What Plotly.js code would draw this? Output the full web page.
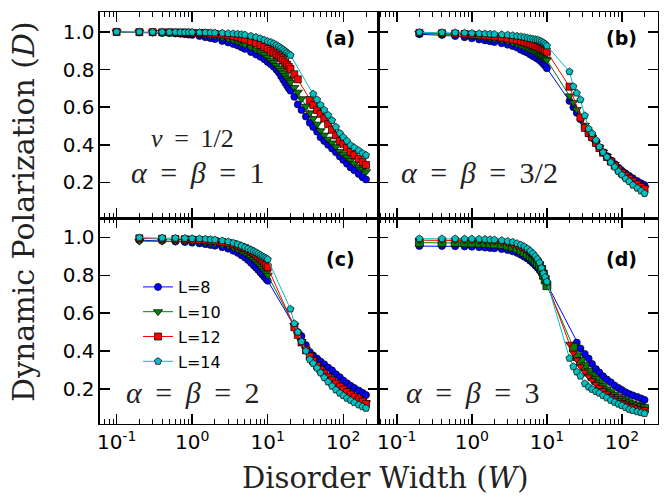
<!DOCTYPE html>
<html>
<head>
<meta charset="utf-8">
<script src="https://cdn.plot.ly/plotly-3.0.1.min.js"></script>
<style>html,body{margin:0;padding:0;background:#fff;}#chart{width:668px;height:498px;}</style>
</head>
<body>
<div id="chart"></div>
<script>
// ---------------- data ----------------
const W_a = [0.1,0.2,0.3,0.4,0.5,0.6,0.7,0.8,0.9,1,1.25,1.5,1.75,2,2.5,3,3.5,4,4.5,5,6,7,8,9,10,11,12,13,14,15,16,17,18,19,20,22.5,25,28,32,36,40,45,50,56,63,71,80,90,100,112,125,140,160,180,200];
const W_bcd = [0.2,0.4,0.6,0.8,1,1.25,1.5,1.75,2,2.5,3,3.5,4,4.5,5,5.5,6,6.5,7,7.5,8,8.5,9,9.5,10,20,22.5,25,28,32,36,40,45,50,56,63,71,80,90,100,112,125,140,160,180,200];

const seriesNames = ['L=8','L=10','L=12','L=14'];

// panel (a)  alpha=beta=1
const a_L8  = [1.0,0.998,0.997,0.995,0.994,0.992,0.99,0.988,0.986,0.984,0.978,0.972,0.967,0.962,0.952,0.944,0.936,0.928,0.918,0.91,0.893,0.88,0.868,0.855,0.84,0.828,0.815,0.8,0.785,0.765,0.747,0.73,0.715,0.7,0.688,0.655,0.615,0.585,0.55,0.517,0.495,0.47,0.44,0.42,0.4,0.38,0.36,0.338,0.32,0.3,0.28,0.265,0.245,0.228,0.216];
const a_L10 = [1.0,0.999,0.998,0.997,0.996,0.995,0.994,0.993,0.992,0.99,0.987,0.984,0.98,0.977,0.97,0.963,0.956,0.948,0.94,0.932,0.918,0.905,0.893,0.88,0.865,0.85,0.837,0.822,0.808,0.795,0.782,0.768,0.755,0.743,0.733,0.705,0.68,0.645,0.605,0.57,0.54,0.51,0.475,0.452,0.43,0.41,0.39,0.365,0.35,0.335,0.318,0.3,0.283,0.27,0.257];
const a_L12 = [1.0,0.999,0.999,0.998,0.998,0.997,0.997,0.996,0.996,0.995,0.994,0.993,0.991,0.989,0.986,0.982,0.978,0.972,0.966,0.96,0.95,0.94,0.93,0.92,0.91,0.9,0.89,0.88,0.87,0.86,0.85,0.838,0.826,0.815,0.803,0.775,0.748,null,null,0.638,0.612,0.585,0.565,0.54,0.51,0.48,0.45,0.42,0.405,0.385,0.362,0.345,0.325,0.308,0.293];
const a_L14 = [1.0,1.0,0.999,0.999,0.999,0.999,0.998,0.998,0.998,0.998,0.997,0.997,0.996,0.995,0.994,0.992,0.991,0.989,0.987,0.984,0.978,0.972,0.965,0.957,0.95,0.945,0.938,0.93,0.922,0.914,0.906,0.898,0.89,0.883,0.876,null,null,null,null,null,0.67,0.64,0.612,0.585,0.558,0.53,0.495,0.462,0.44,0.42,0.398,0.385,0.37,0.355,0.345];

// panel (b)  alpha=beta=3/2
const b_L8  = [0.988,0.984,0.978,0.972,0.966,0.96,0.955,0.95,0.946,0.94,0.932,0.925,0.917,0.905,0.897,0.89,0.88,0.872,0.865,0.857,0.85,0.84,0.83,0.82,0.807,0.633,0.6,0.57,0.536,0.493,0.46,0.438,0.41,0.385,0.36,0.34,0.318,0.298,0.278,0.262,0.248,0.235,0.222,0.208,0.196,0.186];
const b_L10 = [0.992,0.99,0.986,0.982,0.978,0.974,0.97,0.966,0.962,0.956,0.95,0.943,0.936,0.928,0.92,0.913,0.905,0.898,0.89,0.882,0.875,0.868,0.862,0.856,0.851,0.66,0.625,0.588,0.55,0.505,0.465,0.44,0.41,0.385,0.36,0.338,0.315,0.295,0.272,0.255,0.24,0.225,0.21,0.195,0.182,0.17];
const b_L12 = [0.995,0.993,0.991,0.989,0.986,0.983,0.98,0.978,0.975,0.97,0.965,0.96,0.955,0.95,0.945,0.94,0.935,0.93,0.925,0.92,0.915,0.91,0.905,0.9,0.895,0.709,null,null,0.545,0.49,0.462,0.44,0.41,0.383,0.358,0.335,0.312,0.29,0.268,0.25,0.235,0.22,0.205,0.19,0.177,0.165];
const b_L14 = [0.998,0.997,0.996,0.995,0.993,0.992,0.99,0.989,0.988,0.986,0.984,0.981,0.978,0.975,0.972,0.968,0.965,0.962,0.96,0.957,0.953,0.948,0.942,0.935,0.926,0.789,0.71,0.675,0.64,0.555,0.485,0.46,0.425,0.39,0.36,0.335,0.307,0.282,0.258,0.24,0.22,0.205,0.186,0.17,0.155,0.142];

// panel (c)  alpha=beta=2
const c_L8  = [0.985,0.982,0.978,0.975,0.972,0.968,0.964,0.96,0.956,0.948,0.94,0.929,0.918,0.905,0.893,0.88,0.866,0.853,0.84,0.828,0.815,0.803,0.792,0.781,0.771,null,null,0.5,0.479,0.432,0.395,0.377,0.36,0.345,0.33,0.313,0.298,0.278,0.262,0.245,0.23,0.217,0.205,0.192,0.18,0.168];
const c_L10 = [0.98,0.98,0.98,0.98,0.978,0.976,0.973,0.97,0.967,0.961,0.955,0.946,0.937,0.927,0.917,0.906,0.895,0.884,0.872,0.86,0.848,0.836,0.824,0.812,0.8,null,0.535,0.49,0.45,0.41,0.38,0.355,0.33,0.31,0.29,0.27,0.252,0.235,0.218,0.203,0.189,0.175,0.163,0.15,0.138,0.127];
const c_L12 = [0.995,0.993,0.991,0.99,0.988,0.986,0.984,0.982,0.98,0.975,0.97,0.964,0.957,0.95,0.943,0.935,0.927,0.918,0.909,0.899,0.889,0.878,0.866,0.855,0.842,null,0.525,0.485,0.445,0.405,0.372,0.348,0.322,0.302,0.282,0.262,0.245,0.228,0.212,0.197,0.183,0.17,0.158,0.145,0.133,0.121];
const c_L14 = [0.998,0.997,0.996,0.995,0.994,0.993,0.991,0.989,0.987,0.982,0.977,0.97,0.963,0.955,0.947,0.94,0.933,0.926,0.92,0.913,0.906,0.9,0.895,0.89,0.884,0.622,0.545,0.5,0.45,0.4,0.355,0.335,0.31,0.285,0.26,0.237,0.215,0.195,0.178,0.165,0.151,0.14,0.128,0.116,0.106,0.098];

// panel (d)  alpha=beta=3
const d_L8  = [0.954,0.954,0.953,0.952,0.95,0.948,0.946,0.944,0.942,0.938,0.933,0.926,0.918,0.908,0.898,0.888,0.876,0.864,0.852,0.84,0.826,0.81,0.793,0.775,0.755,null,null,0.445,0.414,0.385,0.36,0.332,0.305,0.287,0.267,0.25,0.235,0.218,0.205,0.194,0.182,0.173,0.166,0.158,0.15,0.142];
const d_L10 = [0.972,0.972,0.972,0.971,0.97,0.969,0.968,0.966,0.965,0.961,0.955,0.948,0.94,0.93,0.92,0.91,0.9,0.888,0.875,0.862,0.85,0.83,0.8,0.775,0.745,null,0.42,0.37,0.345,0.318,0.288,0.265,0.245,0.225,0.207,0.19,0.175,0.162,0.15,0.14,0.131,0.122,0.115,0.108,0.102,0.097];
const d_L12 = [0.985,0.985,0.985,0.984,0.983,0.982,0.981,0.979,0.977,0.972,0.967,0.96,0.953,0.944,0.935,0.925,0.913,0.9,0.888,0.874,0.86,0.84,0.818,0.79,0.76,0.437,0.39,0.355,0.318,0.29,0.265,0.245,0.225,0.208,0.192,0.176,0.162,0.15,0.139,0.13,0.122,0.114,0.108,0.101,0.096,0.092];
const d_L14 = [0.993,0.993,0.993,0.992,0.992,0.991,0.99,0.988,0.987,0.984,0.98,0.975,0.968,0.96,0.951,0.94,0.928,0.915,0.9,0.885,0.866,0.838,0.81,0.79,0.766,0.362,0.318,0.29,0.268,0.228,0.21,0.198,0.187,0.178,0.165,0.153,0.14,0.13,0.12,0.112,0.102,0.092,0.087,0.08,0.075,0.07];

const xTickVals = [0.1,1,10,100];
const xTickText = ['10<sup>-1</sup>','10<sup>0</sup>','10<sup>1</sup>','10<sup>2</sup>'];
const yTickVals = [0.2,0.4,0.6,0.8,1.0];
const yTickText = ['0.2','0.4','0.6','0.8','1.0'];
const panelLabels = ['(a)','(b)','(c)','(d)'];

// ---------------- styles ----------------
const colors = ['#0000ff','#008000','#ff0000','#00bfbf'];
const symbols = ['circle','triangle-down','square','pentagon'];
const sizes = [7,8,7,7.5];

function mk(x, y, i, xa, ya, showleg, symOverride) {
  return {
    x: x, y: y, type: 'scatter', mode: 'lines+markers',
    name: seriesNames[i], legendgroup: seriesNames[i], showlegend: showleg,
    connectgaps: true,
    xaxis: xa, yaxis: ya,
    line: {color: colors[i], width: 1},
    marker: {symbol: symOverride || symbols[i], size: sizes[i], color: colors[i],
             line: {color: '#000', width: 0.7}}
  };
}

const traces = [];
[a_L8,a_L10,a_L12,a_L14].forEach((y,i)=>traces.push(mk(W_a,y,i,'x','y',true)));
[b_L8,b_L10,b_L12,b_L14].forEach((y,i)=>traces.push(mk(W_bcd,y,i,'x2','y2',false)));
[c_L8,c_L10,c_L12,c_L14].forEach((y,i)=>traces.push(mk(W_bcd,y,i,'x3','y3',false)));
// in panel (d) the L=10 / L=12 marker shapes are swapped in the original figure
[d_L8,d_L10,d_L12,d_L14].forEach((y,i)=>{
  const s = i===1 ? 'square' : (i===2 ? 'triangle-down' : null);
  traces.push(mk(W_bcd,y,i,'x4','y4',false,s));
});

const minorVals = [];
for (let e=-2; e<=2; e++) for (let m=2; m<=9; m++) minorVals.push(m*Math.pow(10,e));

const tickFont = {family: 'DejaVu Sans, sans-serif', size: 20, color: '#000'};
function xAx(domain, anchor, range, labels) {
  return {domain: domain, anchor: anchor, type: 'log', range: range,
    showline: true, linecolor: '#000', linewidth: 1.5, mirror: 'allticks',
    ticks: 'inside', ticklen: 10, tickwidth: 1.5, tickcolor: '#000',
    tickmode: 'array', tickvals: xTickVals, ticktext: xTickText,
    showticklabels: labels, tickfont: tickFont,
    minor: {tickmode: 'array', tickvals: minorVals, ticks: 'inside', ticklen: 5, tickwidth: 1, tickcolor: '#000', showgrid: false},
    showgrid: false, zeroline: false};
}
function yAx(domain, anchor, range, labels) {
  return {domain: domain, anchor: anchor, range: range,
    showline: true, linecolor: '#000', linewidth: 1.5, mirror: 'allticks',
    ticks: 'inside', ticklen: 10, tickwidth: 1.5, tickcolor: '#000',
    tickmode: 'array', tickvals: yTickVals, ticktext: yTickText,
    showticklabels: labels, tickfont: tickFont,
    showgrid: false, zeroline: false};
}

const dxL = [0.1497, 0.5659], dxR = [0.5659, 0.985];
const dyT = [0.5622, 0.9759], dyB = [0.1486, 0.5622];
const rxL = [-1.22, 2.46], rxR = [-1.25, 2.48];
const ryT = [0.011, 1.106], ryB = [0.015, 1.102];

const serif = 'Liberation Serif, Times New Roman, serif';
const wideSerif = 'DejaVu Serif, serif';
const mathFont = {family: serif, size: 30, color: '#222'};
const labFont = {family: 'DejaVu Sans, sans-serif', size: 19, color: '#000'};
const sp = '\u00a0\u2009';
const eq = sp + '=' + sp;

function ann(xref, yref, x, y, text, font, extra) {
  return Object.assign({xref: xref, yref: yref, x: x, y: y, text: text, showarrow: false,
    xanchor: 'center', yanchor: 'middle', font: font}, extra || {});
}

const annotations = [
  ann('x domain','y domain', 0.865, 0.874, '<b>'+panelLabels[0]+'</b>', labFont),
  ann('x2 domain','y2 domain', 0.868, 0.874, '<b>'+panelLabels[1]+'</b>', labFont),
  ann('x3 domain','y3 domain', 0.865, 0.80, '<b>'+panelLabels[2]+'</b>', labFont),
  ann('x4 domain','y4 domain', 0.868, 0.80, '<b>'+panelLabels[3]+'</b>', labFont),
  ann('paper','paper', 193/668, 1-138/498, '<i>ν</i>'+eq+'1/2', {family: serif, size: 26, color: '#222'}),
  ann('paper','paper', 198/668, 1-172/498, '<i>α</i>'+eq+'<i>β</i>'+eq+'1', mathFont),
  ann('paper','paper', 479/668, 1-172/498, '<i>α</i>'+eq+'<i>β</i>'+eq+'3/2', mathFont),
  ann('paper','paper', 193/668, 1-392/498, '<i>α</i>'+eq+'<i>β</i>'+eq+'2', mathFont),
  ann('paper','paper', 473/668, 1-392/498, '<i>α</i>'+eq+'<i>β</i>'+eq+'3', mathFont),
  ann('paper','paper', 385/668, 1-478/498, 'Disorder Width (<i>W</i>)', {family: wideSerif, size: 29, color: '#222'}),
  ann('paper','paper', 24/668, 1-212/498, 'Dynamic Polarization (<i>D</i>)', {family: wideSerif, size: 30, color: '#222'}, {textangle: -90})
];

const layout = {
  width: 668, height: 498,
  margin: {l:0, r:0, t:0, b:0},
  paper_bgcolor: '#fff', plot_bgcolor: '#fff',
  showlegend: true,
  legend: {x: 138/668, y: 1-270/498, xanchor: 'left', yanchor: 'top', bgcolor: 'rgba(0,0,0,0)',
           font: {family: 'DejaVu Sans, sans-serif', size: 16, color: '#000'}, tracegroupgap: 1},
  xaxis: xAx(dxL, 'y', rxL, false),
  yaxis: yAx(dyT, 'x', ryT, true),
  xaxis2: xAx(dxR, 'y2', rxR, false),
  yaxis2: yAx(dyT, 'x2', ryT, false),
  xaxis3: xAx(dxL, 'y3', rxL, true),
  yaxis3: yAx(dyB, 'x3', ryB, true),
  xaxis4: xAx(dxR, 'y4', rxR, true),
  yaxis4: yAx(dyB, 'x4', ryB, false),
  annotations: annotations
};

Plotly.newPlot('chart', traces, layout, {staticPlot: true, displayModeBar: false});
</script>
</body>
</html>
